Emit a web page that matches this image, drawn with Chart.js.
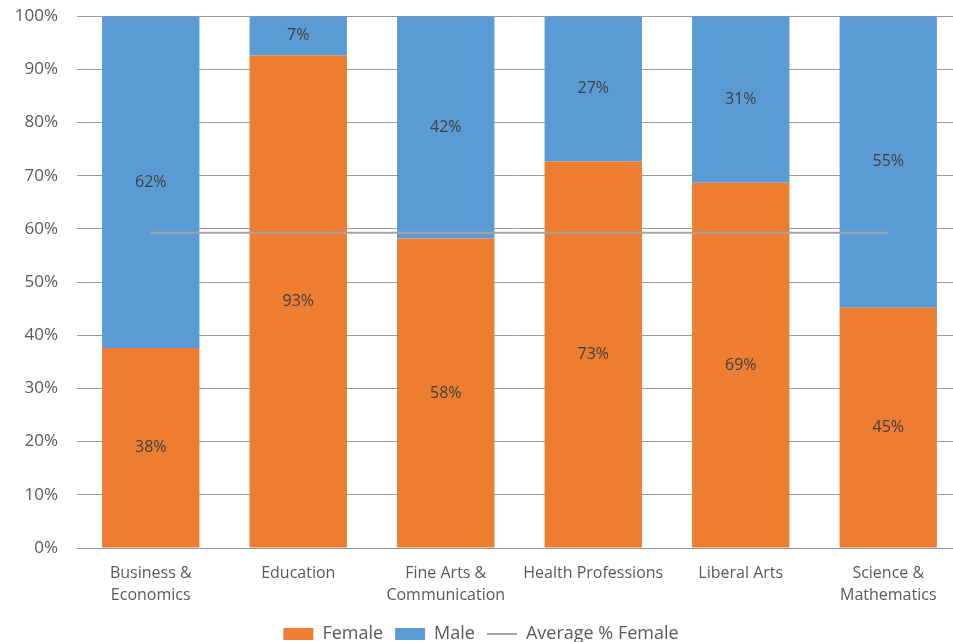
<!DOCTYPE html>
<html>
<head>
<meta charset="utf-8">
<script src="https://cdn.jsdelivr.net/npm/chart.js@4/dist/chart.umd.min.js"></script>
<style>
  html, body { margin: 0; padding: 0; background: #fff; overflow: hidden; }
  #clip { width: 953px; height: 642px; overflow: hidden; position: relative; }
  #wrap { position: absolute; left: 0; top: -13px; width: 962px; height: 666px; }
</style>
</head>
<body>
<div id="clip"><div id="wrap"><canvas id="chart"></canvas></div></div>
<script>
// chart data
const categories = [
  ['Business &', 'Economics'],
  'Education',
  ['Fine Arts &', 'Communication'],
  'Health Professions',
  'Liberal Arts',
  ['Science &', 'Mathematics']
];
const femaleShare = [37.6, 92.6, 58.2, 72.7, 68.7, 45.2];
const maleShare = [62.4, 7.4, 41.8, 27.3, 31.3, 54.8];
const averageFemale = [59.3, 59.3, 59.3, 59.3, 59.3, 59.3];
const yTicks = [0, 10, 20, 30, 40, 50, 60, 70, 80, 90, 100];

const FONT = "'Open Sans', 'Noto Sans', sans-serif";

// draws the % value in the middle of each bar segment
const segmentLabels = {
  id: 'segmentLabels',
  afterDatasetsDraw(chart) {
    const ctx = chart.ctx;
    ctx.save();
    ctx.font = '16px ' + FONT;
    ctx.fillStyle = '#404040';
    ctx.textAlign = 'center';
    ctx.textBaseline = 'middle';
    [0, 1].forEach(i => {
      const meta = chart.getDatasetMeta(i);
      const data = chart.data.datasets[i].data;
      meta.data.forEach((bar, j) => {
        const y = (bar.y + bar.base) / 2;
        ctx.fillText(Math.round(data[j]) + '%', bar.x, y);
      });
    });
    ctx.restore();
  }
};

new Chart(document.getElementById('chart'), {
  data: {
    labels: categories,
    datasets: [
      {
        type: 'bar',
        label: 'Female',
        data: femaleShare,
        backgroundColor: '#ED7D31',
        barPercentage: 0.66,
        categoryPercentage: 1,
        order: 2
      },
      {
        type: 'bar',
        label: 'Male',
        data: maleShare,
        backgroundColor: '#5B9BD5',
        barPercentage: 0.66,
        categoryPercentage: 1,
        order: 2
      },
      {
        type: 'line',
        label: 'Average % Female',
        data: averageFemale,
        borderColor: '#A5A5A5',
        backgroundColor: '#A5A5A5',
        borderWidth: 2,
        pointRadius: 0,
        order: 1
      }
    ]
  },
  options: {
    responsive: true,
    maintainAspectRatio: false,
    animation: false,
    layout: { padding: 0 },
    scales: {
      x: {
        stacked: true,
        afterFit: s => { s.height = 65; },
        grid: { display: false },
        border: { display: false },
        ticks: {
          color: '#595959',
          font: { family: FONT, size: 16, lineHeight: 1.375 },
          padding: 6,
          maxRotation: 0,
          autoSkip: false
        }
      },
      y: {
        stacked: true,
        min: 0,
        max: 100,
        afterFit: s => { s.width = 77; },
        afterBuildTicks: s => { s.ticks = yTicks.map(v => ({ value: v })); },
        grid: { color: '#9a9a9a', drawTicks: false },
        border: { display: false },
        ticks: {
          color: '#595959',
          font: { family: FONT, size: 17 },
          padding: 19,
          callback: v => v + '%'
        }
      }
    },
    plugins: {
      tooltip: { enabled: false },
      legend: {
        position: 'bottom',
        labels: {
          color: '#595959',
          font: { family: FONT, size: 18 },
          usePointStyle: true,
          pointStyleWidth: 30,
          boxHeight: 12,
          padding: 12,
          sort: (a, b) => a.datasetIndex - b.datasetIndex,
          generateLabels(chart) {
            const items = Chart.defaults.plugins.legend.labels.generateLabels(chart);
            items.forEach(it => {
              if (it.datasetIndex === 2) {
                it.pointStyle = 'line';
                it.strokeStyle = '#A5A5A5';
                it.lineWidth = 2;
              } else {
                it.pointStyle = 'rect';
                it.lineWidth = 0;
              }
            });
            return items;
          }
        }
      }
    }
  },
  plugins: [segmentLabels]
});
</script>
</body>
</html>
